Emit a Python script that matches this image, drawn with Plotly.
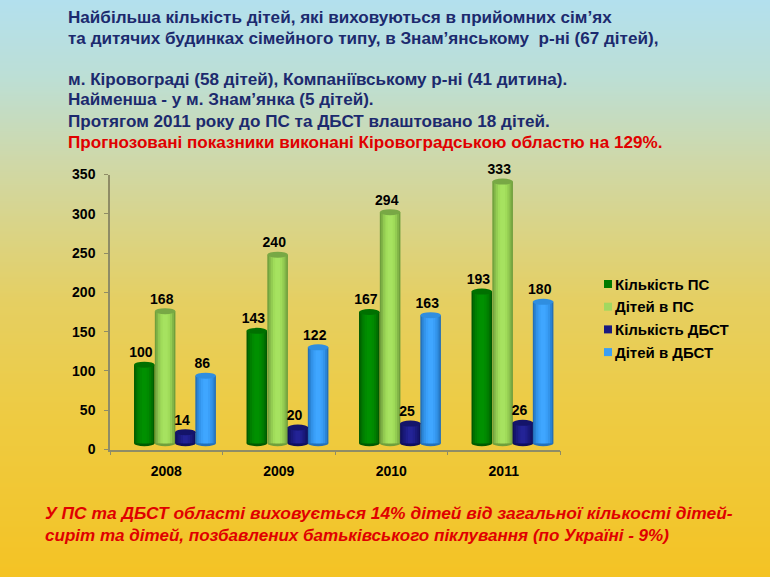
import plotly.graph_objects as go

W, H = 770, 577
years = ["2008", "2009", "2010", "2011"]
series_names = ["Кількість ПС", "Дітей в ПС", "Кількість ДБСТ", "Дітей в ДБСТ"]
kilkist_ps = [100, 143, 167, 193]
ditei_ps = [168, 240, 294, 333]
kilkist_dbst = [14, 20, 25, 26]
ditei_dbst = [86, 122, 163, 180]
y_ticks = [0, 50, 100, 150, 200, 250, 300, 350]

top_lines = [
    ("Найбільша кількість дітей, які виховуються в прийомних сім’ях", 18, "#1c2a6e"),
    ("та дитячих будинках сімейного типу, в Знам’янському  р-ні (67 дітей),", 39, "#1c2a6e"),
    ("м. Кіровограді (58 дітей), Компаніївському р-ні (41 дитина).", 80, "#1c2a6e"),
    ("Найменша - у м. Знам’янка (5 дітей).", 100, "#1c2a6e"),
    ("Протягом 2011 року до ПС та ДБСТ влаштовано 18 дітей.", 121, "#1c2a6e"),
    ("Прогнозовані показники виконані Кіровоградською областю на 129%.", 142, "#e00000"),
]
bottom_lines = [
    ("У ПС та ДБСТ області виховується 14% дітей від загальної кількості дітей-", 513, 17.4),
    ("сиріт та дітей, позбавлених батьківського піклування (по Україні - 9%)", 535, 17.05),
]

values = [kilkist_ps, ditei_ps, kilkist_dbst, ditei_dbst]
offsets = [-0.195, -0.01, 0.17, 0.35]
bar_w = 0.183
floor = 8  # the 3D floor lifts the columns off the axis line
shades = [
    ["#005a00", "#006f00", "#007f00", "#008a00", "#009000"],
    ["#6f9f3c", "#82b548", "#93cc52", "#a0dc5a", "#a6e260"],
    ["#10105c", "#15156c", "#1a1a7c", "#1f1f8c", "#232396"],
    ["#2470b8", "#2b84d4", "#3394ea", "#3a9ff8", "#3fa6ff"],
]
caps = ["#007000", "#78a845", "#14146a", "#2f8ee0"]
swatches = ["#007a00", "#a2d860", "#1a1a80", "#3a9ff5"]
layer_w = [1.0, 0.86, 0.68, 0.46, 0.24]

bg_scale = [
    [0.0, "#b3e0ee"], [0.13, "#bcdfd6"], [0.28, "#cfd8a8"],
    [0.52, "#e5cf62"], [0.72, "#eecb42"], [1.0, "#f4c324"],
]

fig = go.Figure()
fig.add_trace(go.Heatmap(x=[0, 1], y=[0, 1], z=[[1, 1], [0, 0]], zmin=0, zmax=1,
                         colorscale=bg_scale, zsmooth="best", showscale=False,
                         hoverinfo="skip", xaxis="x", yaxis="y"))

shapes = []
for s, (name, vals) in enumerate(zip(series_names, values)):
    xs = [i + offsets[s] for i in range(len(years))]
    for k, wf in enumerate(layer_w):
        fig.add_trace(go.Bar(x=xs, y=vals, base=floor, width=bar_w * wf, name=name,
                             marker=dict(color=shades[s][k], line=dict(width=0)),
                             showlegend=False, xaxis="x2", yaxis="y2",
                             hoverinfo="skip" if k else None))
    for x, v in zip(xs, vals):
        hw = bar_w / 2
        shapes.append(dict(type="circle", xref="x2", yref="y2", layer="between",
                           x0=x - hw, x1=x + hw, y0=floor - 3.8, y1=floor + 3.8,
                           fillcolor=shades[s][0], line=dict(width=0)))
        shapes.append(dict(type="circle", xref="x2", yref="y2", layer="above",
                           x0=x - hw, x1=x + hw, y0=floor + v - 3.8, y1=floor + v + 3.8,
                           fillcolor=caps[s], line=dict(width=0)))

# Value labels live on a taller hidden twin of the value axis, so that the label
# of the tallest column (above the 350 tick) is not dropped.
for s, vals in enumerate(values):
    fig.add_trace(go.Scatter(x=[i + offsets[s] - 0.03 for i in range(len(years))],
                             y=[v + floor + 14 for v in vals],
                             text=[str(v) for v in vals], mode="text",
                             textposition="middle center", cliponaxis=False,
                             textfont=dict(family="Liberation Sans", size=14, color="#000000"),
                             texttemplate="<b>%{text}</b>", showlegend=False,
                             hoverinfo="skip", xaxis="x2", yaxis="y3"))


def px(x):
    return x / W


def py(y):
    return 1 - y / H


# 3D floor outline
fx = [110, 127, 578, 560]
fy = [449.5, 436, 436, 449.5]
path = "M" + " L".join(f"{px(a):.4f},{py(b):.4f}" for a, b in zip(fx, fy))
shapes.append(dict(type="path", xref="paper", yref="paper", path=path, layer="between",
                   line=dict(color="#a39a62", width=1.3), fillcolor="rgba(0,0,0,0)"))

annotations = []
for text, y, color in top_lines:
    annotations.append(dict(text=f"<b>{text}</b>", x=px(66), y=py(y), xref="paper", yref="paper",
                            xanchor="left", yanchor="middle", showarrow=False,
                            font=dict(family="Liberation Sans", size=17.1, color=color)))
for text, y, size in bottom_lines:
    annotations.append(dict(text=f"<b><i>{text}</i></b>", x=px(43), y=py(y), xref="paper", yref="paper",
                            xanchor="left", yanchor="middle", showarrow=False,
                            font=dict(family="Liberation Sans", size=size, color="#e00000")))
for s, name in enumerate(series_names):
    yc = 284 + s * 22.7
    annotations.append(dict(text=f"<b>{name}</b>", x=px(613), y=py(yc), xref="paper", yref="paper",
                            xanchor="left", yanchor="middle", showarrow=False,
                            font=dict(family="Liberation Sans", size=15, color="#000000")))
    shapes.append(dict(type="rect", xref="paper", yref="paper",
                       x0=px(604), x1=px(612), y0=py(yc + 4), y1=py(yc - 4),
                       fillcolor=swatches[s], line=dict(width=0)))

axis_col = "#8f8c66"
tick_font = dict(family="Liberation Sans", size=14, color="#000000")
px_per_unit = (449.5 - 174.5) / 350
fig.update_layout(
    width=W, height=H, margin=dict(l=0, r=0, t=0, b=0),
    paper_bgcolor="#f4c324", plot_bgcolor="rgba(0,0,0,0)",
    barmode="overlay", showlegend=False, shapes=shapes, annotations=annotations,
    xaxis=dict(domain=[0, 1], range=[0, 1], visible=False, fixedrange=True, automargin=False),
    yaxis=dict(domain=[0, 1], range=[0, 1], visible=False, fixedrange=True, automargin=False),
    xaxis2=dict(domain=[px(110), px(560)], range=[-0.5, 3.5], anchor="y2", automargin=False,
                tickmode="array", tickvals=list(range(4)),
                ticktext=[f"<b>{y}</b>" for y in years], ticks="", ticklen=0,
                showgrid=False, zeroline=False, showline=True, linecolor=axis_col, linewidth=1.5,
                tickfont=tick_font, ticklabelstandoff=8,
                minor=dict(tick0=-0.5, dtick=1, ticks="outside", ticklen=4, tickcolor=axis_col,
                           showgrid=False)),
    yaxis2=dict(domain=[py(449.5), py(174.5)], range=[0, 350], anchor="x2", automargin=False,
                tickmode="array", tickvals=y_ticks, ticktext=[f"<b>{v}</b>" for v in y_ticks],
                ticks="outside", ticklen=4, tickcolor=axis_col,
                showgrid=False, zeroline=False, showline=True, linecolor=axis_col, linewidth=1.5,
                tickfont=tick_font, ticklabelstandoff=6),
    yaxis3=dict(domain=[py(449.5), py(449.5 - 400 * px_per_unit)], range=[0, 400], anchor="x2",
                visible=False, automargin=False, fixedrange=True),
)

fig.write_html("out.html", config={"displayModeBar": False},
               post_script="document.body.style.margin='0';document.body.style.overflow='hidden';")
